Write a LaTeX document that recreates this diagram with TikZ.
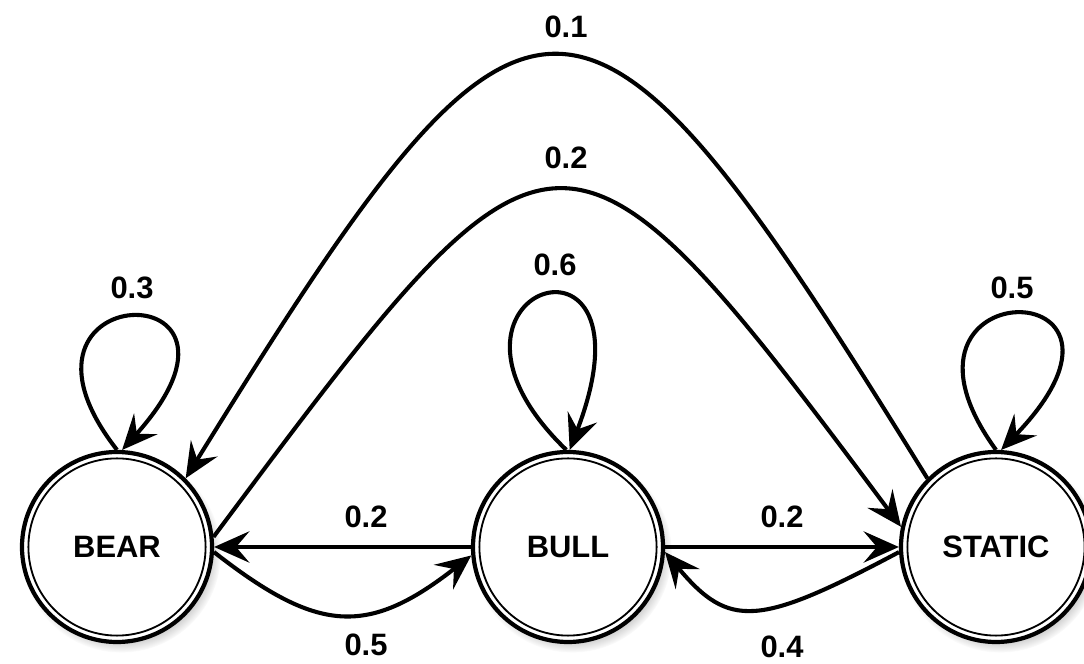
\documentclass[tikz,border=0pt]{standalone}
\usepackage{fontspec}
\setmainfont{Liberation Sans}
\usepackage{tikz}
\usetikzlibrary{arrows.meta, shadows, fadings}

\tikzset{
  statenode/.style={circle, draw=black, fill=white, line width=3pt,
    minimum size=4.75cm, inner sep=0pt,
    font=\fontsize{22}{26}\selectfont\bfseries,
    circular drop shadow={shadow xshift=0.1cm, shadow yshift=-0.14cm,
      shadow scale=1.05, opacity=0.5},
    path picture={\draw[line width=1.3pt] (path picture bounding box.center) circle (2.215cm);}},
  arrow/.style={-{Stealth[length=0.88cm, width=0.78cm, inset=0.33cm]},
    line width=2.9pt, color=black},
  problabel/.style={font=\fontsize{22}{26}\selectfont\bfseries}
}

\begin{document}
\begin{tikzpicture}
  \useasboundingbox (0,0) rectangle (27.1,16.6);

  % States
  \node[statenode] (bear) at (2.925, 2.925) {BEAR};
  \node[statenode] (bull) at (14.2, 2.925) {BULL};
  \node[statenode] (static) at (24.9, 2.925) {STATIC};

  % Self loops
  \draw[arrow] (bear.90) .. controls +(128:5.5) and +(48:6.1) .. (bear.87);
  \draw[arrow] (bull.91) .. controls +(136:5.8) and +(69:6.6) .. (bull.89);
  \draw[arrow] (static.90) .. controls +(126:5.6) and +(46:6.3) .. (static.87);

  % Long arcs
  \draw[arrow] (static.135) .. controls +(121.7:16.55) and +(58.3:16.55) .. (bear.45);
  \draw[arrow] (bear.6) .. controls +(53.3:14.2) and +(126.7:14.2) .. (static.168);

  % Neighbours
  \draw[arrow] (bull.west) -- (bear.east);
  \draw[arrow] (bear.-3) .. controls +(-38:3.3) and +(218:3.3) .. (bull.185);
  \draw[arrow] (bull.east) -- (static.west);
  \draw[arrow] (static.183) .. controls +(208:4.0) and +(-50:2.5) .. (bull.-3);

  % Probabilities
  \node[problabel] (pBearBear) at (3.3, 9.4) {0.3};
  \node[problabel] (pBullBull) at (13.875, 9.975) {0.6};
  \node[problabel] (pStaticStatic) at (25.3, 9.4) {0.5};
  \node[problabel] (pStaticBear) at (14.15, 15.925) {0.1};
  \node[problabel] (pBearStatic) at (14.15, 12.65) {0.2};
  \node[problabel] (pBullBear) at (9.15, 3.675) {0.2};
  \node[problabel] (pBearBull) at (9.15, 0.475) {0.5};
  \node[problabel] (pBullStatic) at (19.55, 3.675) {0.2};
  \node[problabel] (pStaticBull) at (19.55, 0.425) {0.4};
\end{tikzpicture}
\end{document}
